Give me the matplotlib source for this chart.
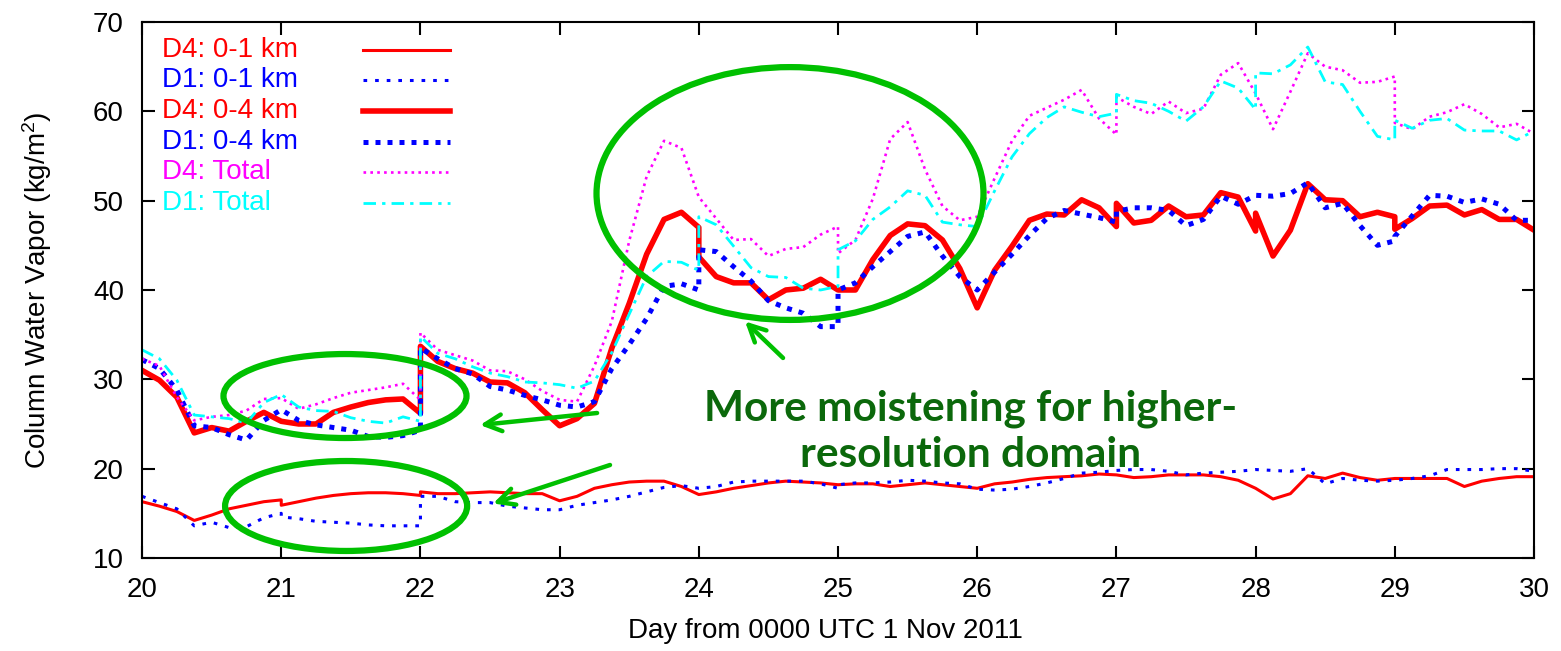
import numpy as np
import matplotlib
matplotlib.use("Agg")
import matplotlib.pyplot as plt
from matplotlib.patches import Ellipse

plt.rcParams['font.family'] = ['Liberation Sans', 'DejaVu Sans']
plt.rcParams['mathtext.fontset'] = 'custom'
plt.rcParams['mathtext.rm'] = 'Liberation Sans'

# 3-hourly samples, each day row runs d .. d+1 so restarts at whole days
# show up as two values at the same time (end of one day, start of next)
days = np.concatenate([np.linspace(d, d + 1, 9) for d in range(20, 30)])

d4_01 = [16.3, 15.8, 15.2, 14.2, 14.8, 15.5, 15.9, 16.3, 16.5,
         15.9, 16.3, 16.7, 17.0, 17.2, 17.3, 17.3, 17.2, 17.0,
         17.4, 17.2, 17.2, 17.3, 17.4, 17.3, 17.2, 17.2, 16.4,
         16.4, 16.9, 17.8, 18.2, 18.5, 18.6, 18.6, 18.0, 17.1,
         17.1, 17.4, 17.8, 18.1, 18.4, 18.6, 18.5, 18.4, 18.2,
         18.2, 18.3, 18.3, 18.0, 18.2, 18.4, 18.2, 18.0, 17.8,
         17.8, 18.3, 18.5, 18.8, 19.0, 19.1, 19.2, 19.4, 19.3,
         19.3, 19.0, 19.1, 19.3, 19.3, 19.3, 19.1, 18.7, 17.8,
         17.8, 16.6, 17.2, 19.2, 18.9, 19.5, 19.0, 18.7, 18.9,
         18.9, 18.9, 18.9, 18.9, 18.0, 18.6, 18.9, 19.1, 19.1]

d1_01 = [16.9, 16.2, 15.5, 13.6, 14.0, 13.4, 13.5, 14.5, 15.0,
         14.6, 14.4, 14.1, 14.0, 13.9, 13.7, 13.6, 13.6, 13.6,
         16.9, 16.9, 16.3, 16.2, 16.2, 15.8, 15.6, 15.4, 15.4,
         15.4, 15.9, 16.2, 16.5, 16.9, 17.4, 17.9, 18.1, 17.8,
         17.8, 18.0, 18.5, 18.6, 18.6, 18.6, 18.6, 18.3, 17.8,
         18.2, 18.4, 18.4, 18.5, 18.7, 18.6, 18.4, 18.3, 17.7,
         17.7, 17.6, 17.7, 18.0, 18.4, 18.9, 19.5, 19.6, 19.8,
         19.8, 19.9, 19.9, 19.7, 19.3, 19.5, 19.6, 19.7, 19.9,
         19.9, 19.8, 19.7, 20.0, 18.3, 18.9, 18.7, 18.6, 18.7,
         18.7, 18.9, 19.2, 19.9, 19.9, 19.9, 20.0, 20.0, 19.7]

d4_04 = [31.0, 29.9, 28.0, 24.0, 24.6, 24.2, 25.3, 26.3, 25.3,
         25.3, 25.0, 25.0, 26.3, 26.9, 27.4, 27.7, 27.8, 26.2,
         33.7, 32.0, 31.2, 30.7, 29.7, 29.6, 28.5, 26.6, 24.8,
         24.8, 25.6, 27.3, 33.5, 38.5, 44.0, 47.9, 48.7, 47.0,
         43.7, 41.5, 40.8, 40.8, 38.9, 40.0, 40.2, 41.2, 40.0,
         40.0, 40.0, 43.4, 46.1, 47.4, 47.2, 45.6, 42.4, 38.0,
         38.0, 42.2, 44.9, 47.8, 48.5, 48.4, 50.1, 49.2, 47.1,
         49.7, 47.5, 47.8, 49.4, 48.2, 48.4, 50.9, 50.4, 46.6,
         48.6, 43.8, 46.7, 51.9, 50.1, 50.0, 48.2, 48.7, 48.2,
         46.8, 48.0, 49.4, 49.5, 48.4, 49.0, 47.9, 47.9, 46.7]

d1_04 = [32.2, 31.2, 28.8, 24.8, 24.6, 23.8, 23.2, 25.4, 26.6,
         26.6, 25.4, 24.9, 24.6, 24.3, 23.6, 23.5, 23.7, 24.3,
         33.5, 32.3, 31.2, 30.6, 29.2, 28.8, 28.2, 27.7, 27.1,
         27.1, 26.9, 27.5, 31.2, 33.9, 36.8, 40.4, 40.7, 40.0,
         44.5, 44.3, 42.6, 41.0, 38.8, 38.0, 37.4, 35.9, 35.9,
         40.0, 40.8, 42.6, 44.3, 46.0, 46.5, 43.8, 41.5, 40.0,
         40.0, 42.0, 44.0, 46.1, 48.0, 48.9, 48.5, 48.1, 47.6,
         48.8, 49.2, 49.2, 48.9, 47.2, 47.9, 50.5, 49.6, 50.6,
         50.6, 50.5, 50.8, 52.0, 49.2, 49.7, 47.2, 45.0, 45.5,
         46.0, 48.3, 50.6, 50.5, 49.8, 50.2, 49.6, 47.8, 47.8]

d4_tot = [32.3, 31.5, 28.0, 25.4, 25.8, 26.0, 26.5, 27.8, 27.9,
          27.9, 26.7, 27.2, 27.9, 28.5, 28.8, 29.1, 29.5, 27.7,
          35.2, 33.3, 32.7, 32.1, 31.0, 30.9, 30.0, 28.7, 27.7,
          27.7, 27.5, 31.5, 36.5, 45.5, 52.7, 56.7, 55.9, 50.4,
          50.4, 48.0, 45.6, 45.7, 43.8, 44.6, 44.8, 46.2, 47.1,
          44.1, 45.6, 50.2, 56.9, 58.8, 53.5, 49.4, 47.8, 48.2,
          48.2, 52.5, 56.7, 59.5, 60.4, 61.3, 62.4, 59.2, 57.4,
          61.6, 60.5, 59.7, 61.1, 59.8, 60.3, 64.1, 65.4, 62.0,
          62.0, 58.0, 62.2, 66.5, 65.0, 64.6, 63.2, 63.3, 63.9,
          58.7, 58.0, 59.4, 59.9, 60.8, 59.7, 58.2, 58.6, 57.5]

d1_tot = [33.3, 32.3, 29.9, 26.0, 25.8, 25.6, 25.1, 27.4, 28.3,
          28.3, 26.9, 26.5, 26.4, 25.7, 25.3, 25.1, 25.8, 25.3,
          34.8, 32.9, 32.3, 31.4, 30.7, 30.3, 29.7, 29.6, 29.4,
          29.4, 29.0, 29.8, 33.0, 37.3, 41.5, 43.2, 43.1, 42.2,
          48.2, 47.3, 44.9, 42.5, 41.5, 41.4, 40.2, 40.0, 40.4,
          44.5, 45.5, 47.9, 49.3, 51.1, 50.6, 47.6, 47.3, 47.1,
          47.1, 51.1, 54.9, 57.5, 59.3, 60.5, 59.9, 59.4, 59.8,
          61.9, 61.2, 60.9, 60.0, 58.9, 60.5, 63.4, 62.6, 60.2,
          64.3, 64.2, 65.2, 67.2, 63.3, 63.0, 60.0, 57.2, 56.8,
          59.0, 58.1, 59.0, 59.2, 57.9, 57.8, 57.8, 56.8, 57.8]

labels = ['D4: 0-1 km', 'D1: 0-1 km', 'D4: 0-4 km', 'D1: 0-4 km',
          'D4: Total', 'D1: Total']
series = [d4_01, d1_01, d4_04, d1_04, d4_tot, d1_tot]
colors = ['#ff0000', '#0000ff', '#ff0000', '#0000ff', '#ff00ff', '#00ffff']
widths = [2.2, 2.2, 4.0, 3.6, 1.9, 2.0]
styles = ['-', (0, (1.2, 2.6)), '-', (0, (1.0, 1.4)), (0, (1.0, 1.6)),
          (0, (4.5, 2.2, 1.2, 2.2))]

fig = plt.figure(figsize=(15.61, 6.51), dpi=100)
ax = fig.add_axes([0.091, 0.1429, 0.8917, 0.8233])

for vals, c, w, ls in zip(series, colors, widths, styles):
    ax.plot(days, vals, color=c, lw=w, linestyle=ls)

# gnuplot style key: text left, sample line right
for i, (lab, c, w, ls) in enumerate(zip(labels, colors, widths, styles)):
    yk = 0.948 - i * 0.0571
    ax.text(0.0144, yk, lab, color=c, fontsize=20, ha='left', va='center',
            transform=ax.transAxes)
    ax.plot([0.1588, 0.2213], [yk, yk], color=c, lw=w, linestyle=ls,
            transform=ax.transAxes)

ax.set_xlim(20, 30)
ax.set_ylim(10, 70)
ax.set_xticks(range(20, 31))
ax.set_yticks(range(10, 71, 10))
ax.tick_params(direction='in', top=True, right=True, length=9, width=1.5,
               labelsize=20)
ax.tick_params(axis='x', pad=14)
ax.tick_params(axis='y', pad=13)
for s in ax.spines.values():
    s.set_linewidth(1.5)

ax.set_xlabel('Day from 0000 UTC 1 Nov 2011', fontsize=20)
ax.set_ylabel('Column Water Vapor (kg/m$\\mathregular{^2}$)', fontsize=20)
ax.xaxis.set_label_coords(0.4907, -0.112)
ax.yaxis.set_label_coords(-0.063, 0.5)

# green annotations
green = '#00c000'
for xy, w, h in [((24.655, 50.8), 2.78, 28.3),
                 ((21.458, 28.13), 1.746, 9.4),
                 ((21.466, 15.82), 1.739, 10.07)]:
    ax.add_patch(Ellipse(xy, w, h, fill=False, edgecolor=green, lw=4.5,
                         clip_on=False, zorder=5))

for tail, tip in [((23.269, 26.23), (22.428, 24.88)),
                  ((23.362, 20.41), (22.522, 16.10)),
                  ((24.605, 32.39), (24.332, 36.48))]:
    ax.annotate('', xy=tip, xytext=tail,
                arrowprops=dict(arrowstyle='->', color=green, lw=3.2,
                                mutation_scale=30, shrinkA=0, shrinkB=0),
                zorder=5)

ax.text(25.955, 24.16, 'More moistening for higher-\nresolution domain',
        fontsize=30.5, fontweight='bold', family='Lato', color='#0b680b',
        ha='center', va='center', linespacing=1.25, zorder=6)

fig.savefig('out.png', dpi=100)
